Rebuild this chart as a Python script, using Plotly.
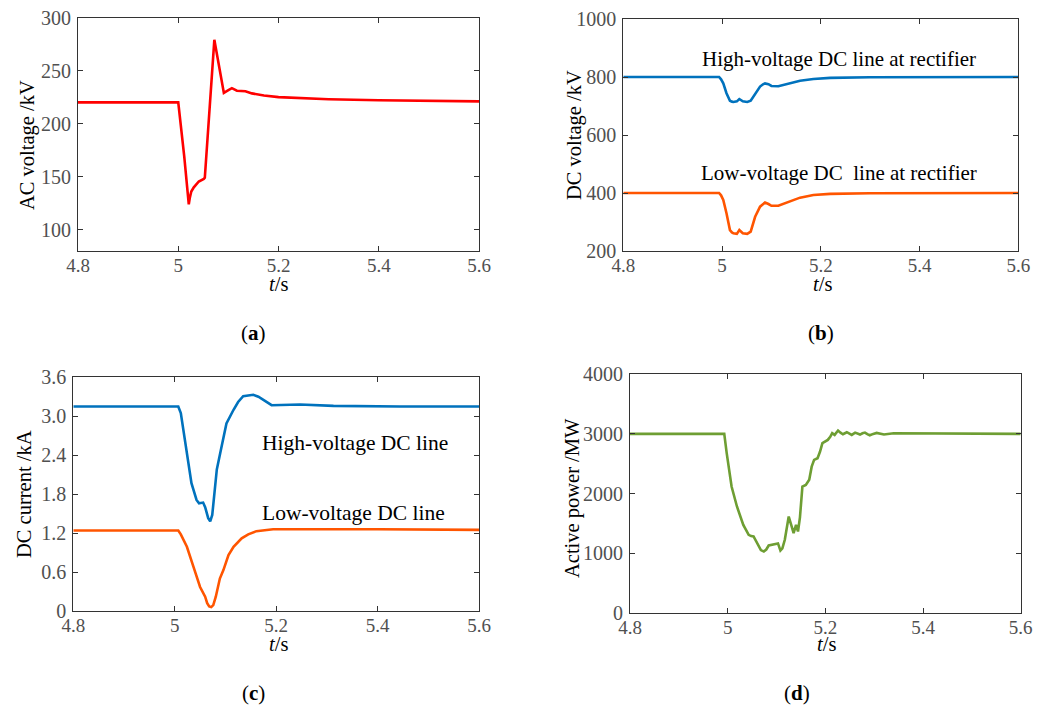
import plotly.graph_objects as go

# ---------------- data ----------------
t_a = [4.80, 5.000, 5.012, 5.021, 5.023, 5.026, 5.031, 5.041, 5.051, 5.053, 5.072, 5.083, 5.091,
       5.100, 5.107, 5.117, 5.134, 5.147, 5.171, 5.200, 5.25, 5.30, 5.40, 5.50, 5.60]
ac_voltage = [220, 220, 169, 124, 130, 136, 140, 145.5, 148, 149, 279, 250, 229,
              231.5, 233.4, 231, 230.5, 228.5, 226.5, 225, 224, 223, 222, 221.5, 221]

t_b = [4.80, 4.994, 4.998, 5.0025, 5.009, 5.016, 5.020, 5.023, 5.030, 5.035, 5.042, 5.051, 5.058,
       5.062, 5.067, 5.077, 5.083, 5.087, 5.094, 5.100, 5.114, 5.124, 5.138, 5.158, 5.185, 5.219,
       5.30, 5.40, 5.60]
dc_v_high = [800, 800, 792, 778, 744, 718, 715, 714, 716, 724, 716, 714, 718,
             728, 744, 767, 775, 778, 775, 769, 768, 772, 780, 787, 793, 797,
             799, 800, 800]
dc_v_low = [400, 400, 392, 376, 330, 272, 264, 261, 259, 272, 261, 259, 267,
            290, 318, 353, 363, 367, 362, 356, 356, 362, 370, 384, 393, 397,
            399, 400, 400]

t_c_high = [4.80, 5.007, 5.012, 5.020, 5.027, 5.033, 5.043, 5.048, 5.056, 5.060, 5.066, 5.070,
            5.074, 5.079, 5.083, 5.091, 5.102, 5.116, 5.125, 5.135, 5.145, 5.155, 5.165, 5.175,
            5.191, 5.247, 5.313, 5.444, 5.60]
dc_i_high = [3.15, 3.15, 3.05, 2.63, 2.30, 1.97, 1.71, 1.66, 1.67, 1.60, 1.43, 1.38,
             1.48, 1.85, 2.18, 2.48, 2.89, 3.10, 3.22, 3.31, 3.32, 3.33, 3.30, 3.25,
             3.17, 3.18, 3.16, 3.15, 3.15]
t_c_low = [4.80, 5.007, 5.012, 5.018, 5.024, 5.037, 5.050, 5.060, 5.064, 5.068, 5.072, 5.076,
           5.081, 5.089, 5.096, 5.106, 5.116, 5.132, 5.145, 5.161, 5.194, 5.40, 5.60]
dc_i_low = [1.24, 1.24, 1.18, 1.08, 0.99, 0.68, 0.37, 0.22, 0.12, 0.07, 0.06, 0.09,
            0.22, 0.50, 0.63, 0.86, 0.99, 1.12, 1.18, 1.23, 1.26, 1.26, 1.25]

t_d = [4.80, 4.993, 4.998, 5.008, 5.019, 5.032, 5.043, 5.048, 5.053, 5.058, 5.063, 5.068, 5.074,
       5.079, 5.084, 5.094, 5.103, 5.108, 5.112, 5.117, 5.125, 5.131, 5.135, 5.140, 5.144,
       5.148, 5.153, 5.160, 5.167, 5.172, 5.177, 5.184, 5.189, 5.194, 5.205, 5.210, 5.214,
       5.219, 5.226, 5.231, 5.236, 5.244, 5.249, 5.254, 5.261, 5.266, 5.271, 5.276, 5.281,
       5.286, 5.291, 5.298, 5.305, 5.320, 5.340, 5.60]
active_power = [3000, 3000, 2677, 2117, 1782, 1474, 1307, 1285, 1279, 1200, 1111, 1050, 1027,
                1060, 1128, 1151, 1162, 1045, 1080, 1224, 1614, 1450, 1335, 1474, 1363,
                1600, 2117, 2145, 2229, 2450, 2564, 2592, 2700, 2844, 2899, 2950, 3011,
                2983, 3056, 3020, 2994, 3028, 3000, 2983, 3022, 3000, 2989, 3010, 3022,
                2995, 2977, 3000, 3017, 2990, 3010, 3000]

x_ticks = [4.8, 5.0, 5.2, 5.4, 5.6]
x_tick_text = ["4.8", "5", "5.2", "5.4", "5.6"]

# ---------------- figure ----------------
W, H = 1048, 709
def px(x): return x / W
def py(y): return 1 - y / H

FONT = "Liberation Serif, Times New Roman, serif"
fig = go.Figure()

LW = 2.6
fig.add_trace(go.Scatter(x=t_a, y=ac_voltage, mode="lines", line=dict(color="#FF0000", width=LW),
                         xaxis="x", yaxis="y", showlegend=False))
fig.add_trace(go.Scatter(x=t_b, y=dc_v_high, mode="lines", line=dict(color="#0072BD", width=LW),
                         xaxis="x2", yaxis="y2", showlegend=False))
fig.add_trace(go.Scatter(x=t_b, y=dc_v_low, mode="lines", line=dict(color="#FF5500", width=LW),
                         xaxis="x2", yaxis="y2", showlegend=False))
fig.add_trace(go.Scatter(x=t_c_high, y=dc_i_high, mode="lines", line=dict(color="#0072BD", width=LW),
                         xaxis="x3", yaxis="y3", showlegend=False))
fig.add_trace(go.Scatter(x=t_c_low, y=dc_i_low, mode="lines", line=dict(color="#FF5500", width=LW),
                         xaxis="x3", yaxis="y3", showlegend=False))
fig.add_trace(go.Scatter(x=t_d, y=active_power, mode="lines", line=dict(color="#6E9E33", width=LW),
                         xaxis="x4", yaxis="y4", showlegend=False))

axis_common = dict(showline=True, linecolor="#333333", linewidth=1.2, mirror="allticks",
                   ticks="inside", ticklen=5, tickcolor="#333333", showgrid=False, zeroline=False,
                   automargin=False)

def xax(domain, anchor):
    return dict(axis_common, domain=domain, anchor=anchor, range=[4.8, 5.6],
                tickmode="array", tickvals=x_ticks, ticktext=x_tick_text, ticklabelstandoff=-3)

def yax(domain, anchor, rng, vals, text):
    return dict(axis_common, domain=domain, anchor=anchor, range=rng,
                tickmode="array", tickvals=vals, ticktext=text, ticklabelstandoff=2)

fig.update_layout(
    width=W, height=H, margin=dict(l=0, r=0, t=0, b=0, autoexpand=False),
    paper_bgcolor="white", plot_bgcolor="white",
    font=dict(family=FONT, size=18, color="black"),
    xaxis=xax([px(78), px(479)], "y"),
    yaxis=yax([py(251), py(17.5)], "x", [80, 300], [100, 150, 200, 250, 300],
              ["100", "150", "200", "250", "300"]),
    xaxis2=xax([px(623.3), px(1018.3)], "y2"),
    yaxis2=yax([py(251), py(19)], "x2", [200, 1000], [200, 400, 600, 800, 1000],
               ["200", "400", "600", "800", "1000"]),
    xaxis3=xax([px(73.3), px(479)], "y3"),
    yaxis3=yax([py(611), py(377.3)], "x3", [0, 3.6], [0, 0.6, 1.2, 1.8, 2.4, 3.0, 3.6],
               ["0", "0.6", "1.2", "1.8", "2.4", "3.0", "3.6"]),
    xaxis4=xax([px(630), px(1020.7)], "y4"),
    yaxis4=yax([py(612.7), py(374.3)], "x4", [0, 4000], [0, 1000, 2000, 3000, 4000],
               ["0", "1000", "2000", "3000", "4000"]),
)
fig.update_xaxes(tickfont=dict(family=FONT, size=19, color="#505050"))
fig.update_yaxes(tickfont=dict(family=FONT, size=20, color="#505050"))

anns = []
def ann(text, x, y, size=20.5, angle=0, xanchor="center", color="black"):
    anns.append(dict(text=text, x=px(x), y=py(y), xref="paper", yref="paper", showarrow=False,
                     textangle=angle, xanchor=xanchor, yanchor="middle",
                     font=dict(family=FONT, size=size, color=color)))

# y titles
ann("AC voltage /kV", 27, 145, angle=-90)
ann("DC voltage /kV", 574, 135, angle=-90)
ann("DC current /kA", 24, 494, angle=-90)
ann("Active power /MW", 572, 498, angle=-90)
# x titles
for (x, y) in [(278, 284), (822, 284), (278, 644), (826, 644)]:
    ann("<i>t</i>/s", x, y)
# curve labels
ann("High-voltage DC line at rectifier", 839, 59, size=21)
ann("Low-voltage DC  line at rectifier", 839, 173, size=21)
ann("High-voltage DC line", 260, 443, size=21.5, xanchor="left")
ann("Low-voltage DC line", 260, 513, size=21.5, xanchor="left")
# panel labels
ann("(<b>a</b>)", 253, 333, size=21)
ann("(<b>b</b>)", 821, 333, size=21)
ann("(<b>c</b>)", 253, 693, size=21)
ann("(<b>d</b>)", 797, 693, size=21)

fig.update_layout(annotations=anns)
fig.write_html("out.html")
